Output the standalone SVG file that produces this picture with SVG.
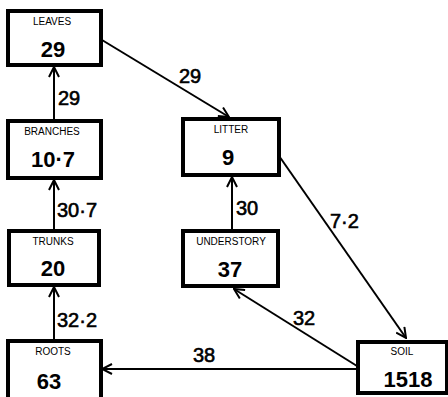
<svg xmlns="http://www.w3.org/2000/svg" width="448" height="397" viewBox="0 0 448 397">
<style>
.box{fill:#fff;stroke:#000;stroke-width:4}
.nm{font-family:"Liberation Sans",Arial,sans-serif;font-size:10px;text-anchor:middle;fill:#000}
.num{font-family:"Liberation Sans",Arial,sans-serif;font-size:22px;font-weight:bold;text-anchor:middle;fill:#000}
.lbl{font-family:"Liberation Sans",Arial,sans-serif;font-size:20px;fill:#000;stroke:#000;stroke-width:0.6}
.ln{stroke:#000;stroke-width:2;fill:none;marker-end:url(#ah)}
</style>
<defs>
<marker id="ah" viewBox="0 0 12 12" refX="11" refY="6" markerWidth="12" markerHeight="12" markerUnits="userSpaceOnUse" orient="auto">
<path d="M1,1 L11,6 L1,11" fill="none" stroke="#000" stroke-width="2"/>
</marker>
</defs>
<rect width="448" height="397" fill="#fff"/>
<g id="connectors">
<line class="ln" x1="54" y1="120" x2="54" y2="67"/>
<line class="ln" x1="54" y1="230" x2="54" y2="180"/>
<line class="ln" x1="54" y1="340" x2="54" y2="287"/>
<line class="ln" x1="102" y1="40" x2="229" y2="117"/>
<line class="ln" x1="232" y1="230" x2="232" y2="177"/>
<line class="ln" x1="277" y1="153" x2="406" y2="338"/>
<line class="ln" x1="357" y1="366" x2="234" y2="289"/>
<line class="ln" x1="357" y1="369" x2="102" y2="369"/>
<text class="lbl" x="58" y="105">29</text>
<text class="lbl" x="57" y="217">30·7</text>
<text class="lbl" x="57" y="327">32·2</text>
<text class="lbl" x="179" y="83">29</text>
<text class="lbl" x="236" y="215">30</text>
<text class="lbl" x="330" y="228">7·2</text>
<text class="lbl" x="293" y="325">32</text>
<text class="lbl" x="193" y="362">38</text>
</g>
<g id="leaves"><rect class="box" x="8" y="11" width="93" height="54"/><text class="nm" x="52" y="25">LEAVES</text><text class="num" x="53" y="57">29</text></g>
<g id="branches"><rect class="box" x="8" y="121" width="93" height="57"/><text class="nm" x="52" y="135">BRANCHES</text><text class="num" x="53" y="167">10·7</text></g>
<g id="trunks"><rect class="box" x="9" y="231" width="90" height="54"/><text class="nm" x="53" y="245">TRUNKS</text><text class="num" x="53" y="276">20</text></g>
<g id="roots"><rect class="box" x="8" y="341" width="93" height="60"/><text class="nm" x="53" y="355">ROOTS</text><text class="num" x="49" y="389">63</text></g>
<g id="litter"><rect class="box" x="183" y="119" width="96" height="56"/><text class="nm" x="231" y="133">LITTER</text><text class="num" x="228" y="165">9</text></g>
<g id="understory"><rect class="box" x="183" y="231" width="95" height="55"/><text class="nm" x="231" y="245">UNDERSTORY</text><text class="num" x="230" y="277">37</text></g>
<g id="soil"><rect class="box" x="358" y="342" width="89" height="51"/><text class="nm" x="402" y="355">SOIL</text><text class="num" x="408" y="387">1518</text></g>
</svg>
